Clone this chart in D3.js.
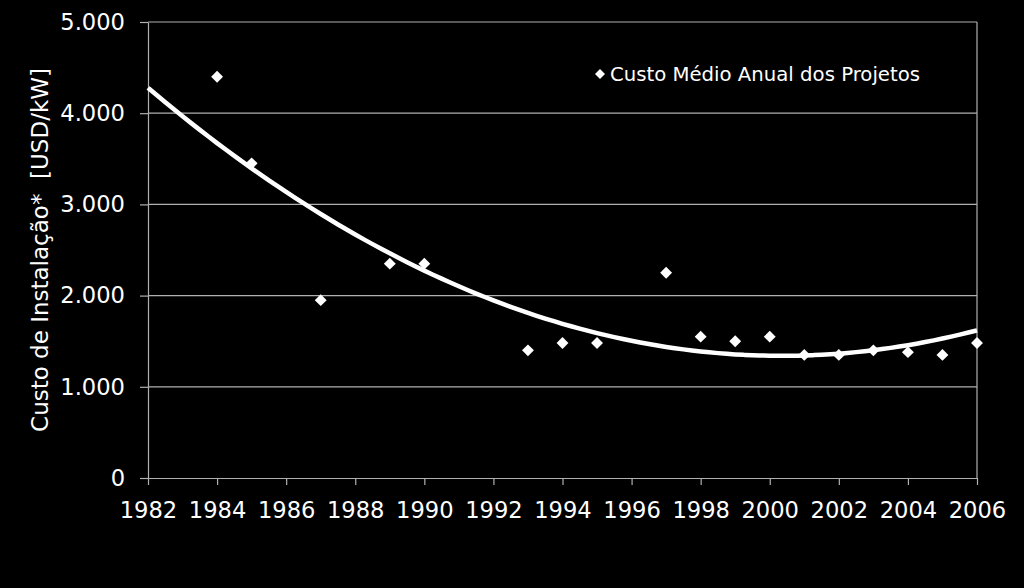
<!DOCTYPE html>
<html><head><meta charset="utf-8">
<script src="https://cdn.jsdelivr.net/npm/d3@7/dist/d3.min.js"></script>
<style>html,body{margin:0;padding:0;background:#000;}svg{display:block;}</style>
</head><body>
<svg id="c" width="1024" height="588"></svg>
<script>
const years = [1984,1985,1987,1989,1990,1993,1994,1995,1997,1998,1999,2000,2001,2002,2003,2004,2005,2006];
const costs = [4400,3450,1950,2350,2350,1400,1480,1480,2250,1550,1500,1550,1350,1350,1400,1380,1350,1480];
const xTicks = [1982,1984,1986,1988,1990,1992,1994,1996,1998,2000,2002,2004,2006];
const yTicks = [0,1000,2000,3000,4000,5000];
const yTickLabels = ["0","1.000","2.000","3.000","4.000","5.000"];
const seriesName = "Custo Médio Anual dos Projetos";
const yTitle = "Custo de Instalação*  [USD/kW]";

const svg = d3.select("#c");
const font = "'DejaVu Sans', Verdana, sans-serif";
const L=148, R=977, T=22, B=478;
const x = d3.scaleLinear().domain([1982,2006]).range([L,R]);
const y = d3.scaleLinear().domain([0,5000]).range([B,T]);

// gridlines
svg.append("g").selectAll("line").data(yTicks.filter(d=>d>0)).join("line")
  .attr("x1",L).attr("x2",R).attr("y1",d=>y(d)).attr("y2",d=>y(d))
  .attr("stroke","#b0b0b0").attr("stroke-width",1.2);
// right border
svg.append("line").attr("x1",R).attr("x2",R).attr("y1",T).attr("y2",B).attr("stroke","#b0b0b0").attr("stroke-width",1.2);

// axes
const xAxis = d3.axisBottom(x).tickValues(xTicks).tickFormat(d3.format("d")).tickSize(7).tickSizeOuter(0).tickPadding(17);
const gx = svg.append("g").attr("transform",`translate(0,${B})`).call(xAxis);
const yAxis = d3.axisLeft(y).tickValues(yTicks).tickFormat((d,i)=>yTickLabels[i]).tickSize(8).tickSizeOuter(0).tickPadding(15);
const gy = svg.append("g").attr("transform",`translate(${L},0)`).call(yAxis);
[gx,gy].forEach(g=>{
  g.selectAll("path,line").attr("stroke","#b0b0b0").attr("stroke-width",1.2);
  g.selectAll("text").attr("fill","#fff").style("font-family",font).style("font-size","22.6px");
});

// quadratic least-squares trend
const t0 = 1982;
const xs = years.map(v=>v-t0);
let S=[0,0,0,0,0], Sy=[0,0,0];
xs.forEach((xv,i)=>{for(let k=0;k<5;k++)S[k]+=Math.pow(xv,k); for(let k=0;k<3;k++)Sy[k]+=costs[i]*Math.pow(xv,k);});
function solve3(A,b){
  const M=A.map((r,i)=>r.concat([b[i]]));
  for(let i=0;i<3;i++){let p=i;for(let j=i+1;j<3;j++)if(Math.abs(M[j][i])>Math.abs(M[p][i]))p=j;[M[i],M[p]]=[M[p],M[i]];
    for(let j=0;j<3;j++){if(j!==i){const f=M[j][i]/M[i][i];for(let k=i;k<4;k++)M[j][k]-=f*M[i][k];}}}
  return M.map((r,i)=>r[3]/r[i]);
}
const coef = solve3([[S[0],S[1],S[2]],[S[1],S[2],S[3]],[S[2],S[3],S[4]]],Sy);
const trend = d3.range(1982,2006.001,0.25).map(v=>[v, coef[0]+coef[1]*(v-t0)+coef[2]*(v-t0)*(v-t0)]);
svg.append("path").datum(trend)
  .attr("d",d3.line().x(d=>x(d[0])).y(d=>y(d[1])).curve(d3.curveBasis))
  .attr("fill","none").attr("stroke","#fff").attr("stroke-width",4.5);

// points
const diamond = d3.symbol().type(d3.symbolDiamond2).size(90);
svg.append("g").selectAll("path").data(years).join("path")
  .attr("d",diamond).attr("transform",(d,i)=>`translate(${x(d)},${y(costs[i])})`)
  .attr("fill","#fff");

// legend
svg.append("path").attr("d",d3.symbol().type(d3.symbolDiamond2).size(64)).attr("transform","translate(600,74)").attr("fill","#fff");
svg.append("text").attr("x",610).attr("y",81).text(seriesName)
  .attr("fill","#fff").style("font-family",font).style("font-size","19.7px");

// y title
svg.append("text").attr("transform","translate(48,250) rotate(-90)").attr("text-anchor","middle")
  .text(yTitle).attr("fill","#fff").style("font-family",font).style("font-size","23px").style("white-space","pre");
</script>
</body></html>
